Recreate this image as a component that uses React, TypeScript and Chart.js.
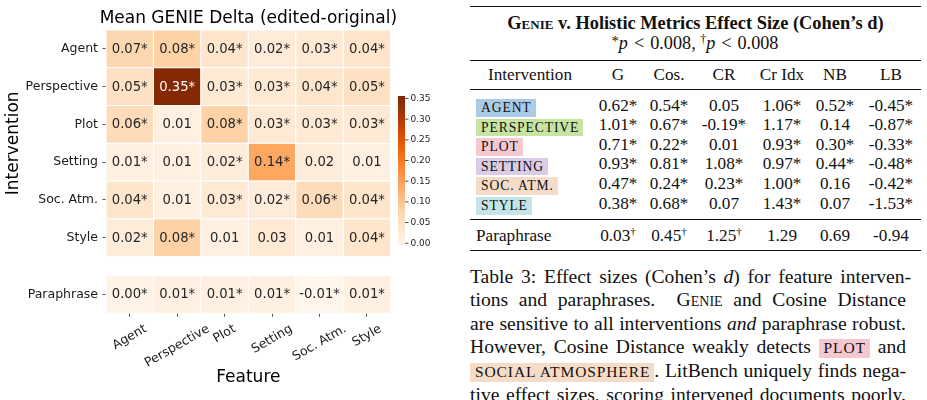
import React, { useEffect, useRef } from 'react';
import { Chart, registerables } from 'chart.js';

Chart.register(...registerables);

// ---------------- Heatmap data ----------------
const FEATURES = ['Agent', 'Perspective', 'Plot', 'Setting', 'Soc. Atm.', 'Style'];
const INTERVENTIONS = ['Agent', 'Perspective', 'Plot', 'Setting', 'Soc. Atm.', 'Style', 'Paraphrase'];
const ROW_POSITIONS = [0, 1, 2, 3, 4, 5, 6.5];

const DELTA_AGENT = [0.07, 0.08, 0.04, 0.02, 0.03, 0.04];
const DELTA_PERSPECTIVE = [0.05, 0.35, 0.03, 0.03, 0.04, 0.05];
const DELTA_PLOT = [0.06, 0.01, 0.08, 0.03, 0.03, 0.03];
const DELTA_SETTING = [0.01, 0.01, 0.02, 0.14, 0.02, 0.01];
const DELTA_SOC_ATM = [0.04, 0.01, 0.03, 0.02, 0.06, 0.04];
const DELTA_STYLE = [0.02, 0.08, 0.01, 0.03, 0.01, 0.04];
const DELTA_PARAPHRASE = [0.0, 0.01, 0.01, 0.01, -0.01, 0.01];

const SIG_AGENT = [1, 1, 1, 1, 1, 1];
const SIG_PERSPECTIVE = [1, 1, 1, 1, 1, 1];
const SIG_PLOT = [1, 0, 1, 1, 1, 1];
const SIG_SETTING = [1, 0, 1, 1, 0, 0];
const SIG_SOC_ATM = [1, 0, 1, 1, 1, 1];
const SIG_STYLE = [1, 1, 0, 0, 0, 1];
const SIG_PARAPHRASE = [1, 1, 1, 1, 1, 1];

const COLORBAR_TICKS = [0, 0.05, 0.1, 0.15, 0.2, 0.25, 0.3, 0.35];

// ---------------- Table data ----------------
const TABLE_COLUMNS = ['G', 'Cos.', 'CR', 'Cr Idx', 'NB', 'LB'];
const TABLE_INTERVENTIONS = ['AGENT', 'PERSPECTIVE', 'PLOT', 'SETTING', 'SOC. ATM.', 'STYLE'];
const EFFECT_AGENT = ['0.62*', '0.54*', '0.05', '1.06*', '0.52*', '-0.45*'];
const EFFECT_PERSPECTIVE = ['1.01*', '0.67*', '-0.19*', '1.17*', '0.14', '-0.87*'];
const EFFECT_PLOT = ['0.71*', '0.22*', '0.01', '0.93*', '0.30*', '-0.33*'];
const EFFECT_SETTING = ['0.93*', '0.81*', '1.08*', '0.97*', '0.44*', '-0.48*'];
const EFFECT_SOC_ATM = ['0.47*', '0.24*', '0.23*', '1.00*', '0.16', '-0.42*'];
const EFFECT_STYLE = ['0.38*', '0.68*', '0.07', '1.43*', '0.07', '-1.53*'];
const EFFECT_PARAPHRASE = ['0.03†', '0.45†', '1.25†', '1.29', '0.69', '-0.94'];

// ---------------- colour map ----------------
const ORANGES = ['#fff5eb', '#fee6ce', '#fdd0a2', '#fdae6b', '#fd8d3c', '#f16913', '#d94801', '#a63603', '#7f2704'];
const VMIN = -0.006;
const VMAX = 0.356;

function hexToRgb(h: string) {
  return [parseInt(h.slice(1, 3), 16), parseInt(h.slice(3, 5), 16), parseInt(h.slice(5, 7), 16)];
}
function cmapRgb(t: number) {
  t = Math.max(0, Math.min(1, t));
  const pos = t * (ORANGES.length - 1);
  const i = Math.min(ORANGES.length - 2, Math.floor(pos));
  const f = pos - i;
  const a = hexToRgb(ORANGES[i]);
  const b = hexToRgb(ORANGES[i + 1]);
  return [0, 1, 2].map((k) => Math.round(a[k] + (b[k] - a[k]) * f));
}
function valueRgb(v: number) {
  return cmapRgb((v - VMIN) / (VMAX - VMIN));
}
function rgbStr(c: number[]) {
  return `rgb(${c[0]},${c[1]},${c[2]})`;
}
function luminance(c: number[]) {
  const l = c.map((x) => {
    const s = x / 255;
    return s <= 0.03928 ? s / 12.92 : Math.pow((s + 0.055) / 1.055, 2.4);
  });
  return 0.2126 * l[0] + 0.7152 * l[1] + 0.0722 * l[2];
}

const FONT = 'DejaVu Sans';
const TXT = '#262626';

const heatPlugin = {
  id: 'heat',
  beforeDatasetsDraw(chart: any) {
    const { ctx } = chart;
    const xs = chart.scales.x;
    const ys = chart.scales.y;
    const pts = chart.data.datasets[0].data as any[];
    ctx.save();
    pts.forEach((p) => {
      const x0 = xs.getPixelForValue(p.x - 0.5);
      const x1 = xs.getPixelForValue(p.x + 0.5);
      const y0 = ys.getPixelForValue(p.y - 0.5);
      const y1 = ys.getPixelForValue(p.y + 0.5);
      const c = valueRgb(p.v);
      ctx.fillStyle = rgbStr(c);
      ctx.fillRect(x0, y0, x1 - x0, y1 - y0);
      ctx.strokeStyle = '#ffffff';
      ctx.lineWidth = 1;
      ctx.strokeRect(x0, y0, x1 - x0, y1 - y0);
      ctx.fillStyle = luminance(c) > 0.408 ? TXT : '#ffffff';
      ctx.font = `13.2px "${FONT}"`;
      ctx.textAlign = 'center';
      ctx.textBaseline = 'middle';
      ctx.fillText(p.v.toFixed(2) + (p.s ? '*' : ''), (x0 + x1) / 2, (y0 + y1) / 2 + 0.5);
    });
    ctx.restore();
  },
  afterDraw(chart: any) {
    const { ctx, chartArea } = chart;
    const xs = chart.scales.x;
    const ys = chart.scales.y;
    ctx.save();
    ctx.fillStyle = '#000000';
    // title
    ctx.font = `17px "${FONT}"`;
    ctx.textAlign = 'center';
    ctx.textBaseline = 'middle';
    ctx.fillText('Mean GENIE Delta (edited-original)', (chartArea.left + chartArea.right) / 2, 19);
    // y axis title
    const yTop = ys.getPixelForValue(-0.5);
    const yBot = ys.getPixelForValue(5.5);
    ctx.save();
    ctx.translate(14, (yTop + yBot) / 2);
    ctx.rotate(-Math.PI / 2);
    ctx.fillText('Intervention', 0, 0);
    ctx.restore();
    // x axis title
    ctx.fillText('Feature', (chartArea.left + chartArea.right) / 2, 378);
    // x tick labels (rotated 30°, centred on tick)
    ctx.font = `12.5px "${FONT}"`;
    ctx.fillStyle = '#1a1a1a';
    const ang = (30 * Math.PI) / 180;
    const top = chartArea.bottom + 8.5;
    FEATURES.forEach((lab, i) => {
      const tx = xs.getPixelForValue(i);
      const w = ctx.measureText(lab).width;
      const h = 14.5;
      const bh = w * Math.sin(ang) + h * Math.cos(ang);
      ctx.save();
      ctx.translate(tx, top + bh / 2);
      ctx.rotate(-ang);
      ctx.textAlign = 'center';
      ctx.textBaseline = 'middle';
      ctx.fillText(lab, 0, 0);
      ctx.restore();
    });
    // colour bar
    const cbL = 398;
    const cbW = 7;
    const cbT = 96;
    const cbB = 245.7;
    const grad = ctx.createLinearGradient(0, cbB, 0, cbT);
    ORANGES.forEach((c, i) => grad.addColorStop(i / (ORANGES.length - 1), c));
    ctx.fillStyle = grad;
    ctx.fillRect(cbL, cbT, cbW, cbB - cbT);
    ctx.strokeStyle = TXT;
    ctx.lineWidth = 0.8;
    ctx.fillStyle = TXT;
    ctx.font = `9px "${FONT}"`;
    ctx.textAlign = 'left';
    ctx.textBaseline = 'middle';
    COLORBAR_TICKS.forEach((v) => {
      const y = cbB - ((v - VMIN) / (VMAX - VMIN)) * (cbB - cbT);
      ctx.beginPath();
      ctx.moveTo(cbL + cbW, y);
      ctx.lineTo(cbL + cbW + 3.5, y);
      ctx.stroke();
      ctx.fillText(v.toFixed(2), cbL + cbW + 5.5, y);
    });
    ctx.restore();
  },
};

function Heatmap() {
  const ref = useRef<HTMLCanvasElement>(null);
  useEffect(() => {
    const rowsV = [DELTA_AGENT, DELTA_PERSPECTIVE, DELTA_PLOT, DELTA_SETTING, DELTA_SOC_ATM, DELTA_STYLE, DELTA_PARAPHRASE];
    const rowsS = [SIG_AGENT, SIG_PERSPECTIVE, SIG_PLOT, SIG_SETTING, SIG_SOC_ATM, SIG_STYLE, SIG_PARAPHRASE];
    const data: any[] = [];
    rowsV.forEach((vals, r) =>
      vals.forEach((v, c) => data.push({ x: c, y: ROW_POSITIONS[r], v, s: rowsS[r][c] }))
    );
    const chart = new Chart(ref.current as HTMLCanvasElement, {
      type: 'scatter',
      data: { datasets: [{ data, pointRadius: 0, pointHoverRadius: 0 }] as any },
      options: {
        animation: false,
        responsive: false,
        events: [],
        layout: { padding: { top: 30, right: 69.3, left: 0, bottom: 0 } },
        plugins: { legend: { display: false }, tooltip: { enabled: false }, title: { display: false } },
        scales: {
          x: {
            type: 'linear',
            min: -0.5,
            max: 5.5,
            afterBuildTicks: (s: any) => {
              s.ticks = FEATURES.map((_, i) => ({ value: i }));
            },
            ticks: { display: false },
            grid: { drawOnChartArea: false, drawTicks: true, tickLength: 3.5, color: TXT, lineWidth: 0.8 },
            border: { display: false },
            afterFit: (s: any) => {
              s.height = 86.7;
            },
          },
          y: {
            type: 'linear',
            min: -0.5,
            max: 7,
            reverse: true,
            afterBuildTicks: (s: any) => {
              s.ticks = ROW_POSITIONS.map((v) => ({ value: v }));
            },
            ticks: {
              autoSkip: false,
              padding: 4.5,
              color: '#1a1a1a',
              font: { size: 12.5, family: FONT },
              callback: (_v: any, i: number) => INTERVENTIONS[i],
            },
            grid: { drawOnChartArea: false, drawTicks: true, tickLength: 3.5, color: TXT, lineWidth: 0.8 },
            border: { display: false },
            afterFit: (s: any) => {
              s.width = 106;
            },
          },
        },
      } as any,
      plugins: [heatPlugin],
    });
    return () => chart.destroy();
  }, []);
  return <canvas ref={ref} width={460} height={400} style={{ position: 'absolute', left: 0, top: 0 }} />;
}

// ---------------- Table + caption ----------------
const SERIF = '"Liberation Serif", "Times New Roman", serif';
const BADGE_COLORS = ['#a9cbe6', '#c7e5a2', '#f5c8d0', '#dacbe6', '#f5dcc8', '#c3e5e7'];
const COL_X = [618, 669, 724, 782, 835, 891];
const ROW_Y = [105.5, 125.1, 144.7, 164.3, 183.9, 203.5];

const SUP: React.CSSProperties = { fontSize: '0.65em', verticalAlign: 'baseline', position: 'relative', top: '-0.55em' };
const SUPSTAR: React.CSSProperties = { fontSize: '0.8em', verticalAlign: 'baseline', position: 'relative', top: '-0.2em' };

function Val({ s }: { s: string }) {
  if (s.endsWith('†')) {
    return (
      <span>
        {s.slice(0, -1)}
        <span style={SUP}>†</span>
      </span>
    );
  }
  return <span>{s}</span>;
}

function Cell({ x, y, children, bold, size }: any) {
  return (
    <div
      style={{
        position: 'absolute',
        left: x,
        top: y - 10,
        height: 20,
        lineHeight: '20px',
        transform: 'translateX(-50%)',
        whiteSpace: 'nowrap',
        fontWeight: bold ? 'bold' : 'normal',
        fontSize: size,
      }}
    >
      {children}
    </div>
  );
}

function Rule({ y, w }: { y: number; w: number }) {
  return <div style={{ position: 'absolute', left: 470, width: 451, top: y - w / 2, height: w, background: '#111' }} />;
}

function Badge({ text, color, size, h }: any) {
  return (
    <span
      style={{
        display: 'inline-block',
        background: color,
        fontSize: size,
        letterSpacing: '0.9px',
        textTransform: 'uppercase',
        height: h,
        lineHeight: h + 'px',
        padding: '0 4px 0 5px',
        verticalAlign: 'middle',
      }}
    >
      {text}
    </span>
  );
}

function CapLine({ y, children, width = 436 }: any) {
  return (
    <div
      style={{
        position: 'absolute',
        left: 470,
        width,
        top: y - 11.8,
        height: 23.6,
        lineHeight: '23.6px',
        textAlign: 'justify',
        textAlignLast: 'justify' as any,
        whiteSpace: 'normal',
      }}
    >
      {children}
    </div>
  );
}

const LT: React.CSSProperties = { margin: '0 6px' };

function TablePanel() {
  const rows = [EFFECT_AGENT, EFFECT_PERSPECTIVE, EFFECT_PLOT, EFFECT_SETTING, EFFECT_SOC_ATM, EFFECT_STYLE];
  return (
    <div style={{ position: 'absolute', left: 0, top: 0, width: 927, height: 400, fontFamily: SERIF, color: '#111', fontSize: 17.2 }}>
      <Rule y={6.7} w={1.3} />
      <Cell x={695.5} y={23} bold size={18.4}>
        <span style={{ fontVariant: 'small-caps' }}>Genie</span> v. Holistic Metrics Effect Size (Cohen’s d)
      </Cell>
      <Cell x={695} y={43} size={18.2}>
        <span style={SUPSTAR}>*</span>
        <i>p</i>
        <span style={LT}>&lt;</span>0.008,{' '}
        <span style={SUP}>†</span>
        <i>p</i>
        <span style={LT}>&lt;</span>0.008
      </Cell>
      <Rule y={60} w={0.8} />
      <div style={{ position: 'absolute', left: 488, top: 65, lineHeight: '20px' }}>Intervention</div>
      {TABLE_COLUMNS.map((c, i) => (
        <Cell key={c} x={COL_X[i]} y={75}>
          {c}
        </Cell>
      ))}
      <Rule y={89.3} w={0.8} />
      {TABLE_INTERVENTIONS.map((name, r) => (
        <React.Fragment key={name}>
          <div style={{ position: 'absolute', left: 476, top: ROW_Y[r] - 8.75, height: 17.5 }}>
            <Badge text={name} color={BADGE_COLORS[r]} size={13.6} h={17.5} />
          </div>
          {rows[r].map((v, c) => (
            <Cell key={c} x={COL_X[c]} y={ROW_Y[r]}>
              <Val s={v} />
            </Cell>
          ))}
        </React.Fragment>
      ))}
      <Rule y={219.3} w={0.8} />
      <div style={{ position: 'absolute', left: 476, top: 226, lineHeight: '20px' }}>Paraphrase</div>
      {EFFECT_PARAPHRASE.map((v, c) => (
        <Cell key={c} x={COL_X[c]} y={236}>
          <Val s={v} />
        </Cell>
      ))}
      <Rule y={250.7} w={1.3} />

      <div style={{ fontSize: 19.6 }}>
        <CapLine y={276.7} width={441}>
          Table 3: Effect sizes (Cohen’s <i>d</i>) for feature interven-
        </CapLine>
        <CapLine y={300}>
          tions and paraphrases. &nbsp;<span style={{ fontVariant: 'small-caps' }}>Genie</span> and Cosine Distance
        </CapLine>
        <CapLine y={323.3}>
          are sensitive to all interventions <i>and</i> paraphrase robust.
        </CapLine>
        <CapLine y={347}>
          However, Cosine Distance weakly detects <Badge text="PLOT" color="#f5c8d0" size={15.5} h={18.4} /> and
        </CapLine>
        <CapLine y={371}>
          <Badge text="SOCIAL ATMOSPHERE" color="#f5dcc8" size={15.5} h={18.4} />. LitBench uniquely finds nega-
        </CapLine>
        <CapLine y={394.5}>
          tive effect sizes, scoring intervened documents poorly.
        </CapLine>
      </div>
    </div>
  );
}

export default function App() {
  return (
    <div
      style={{
        position: 'fixed',
        left: 0,
        top: 0,
        width: 927,
        height: 400,
        overflow: 'hidden',
        background: '#ffffff',
      }}
    >
      <TablePanel />
      <Heatmap />
    </div>
  );
}
